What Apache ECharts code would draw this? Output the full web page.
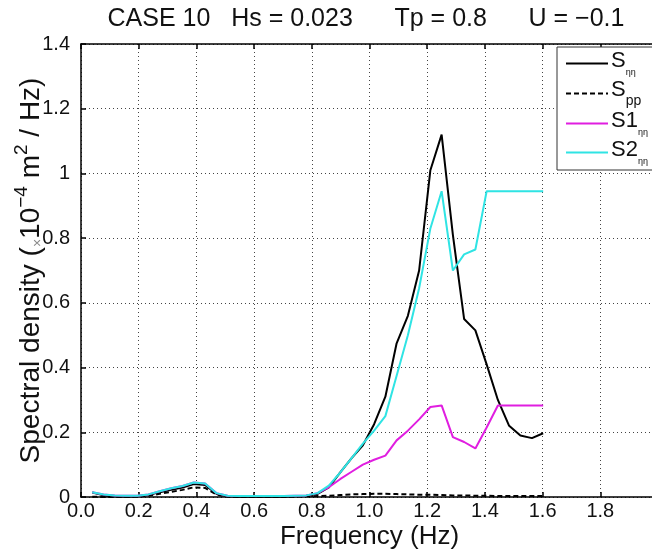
<!DOCTYPE html>
<html><head><meta charset="utf-8">
<script src="https://cdn.jsdelivr.net/npm/echarts@6/dist/echarts.min.js"></script>
<style>html,body{margin:0;padding:0;background:#fff}#c{width:652px;height:553px}</style>
</head><body><div id="c"></div>
<script>
var freq = [0.039,0.078,0.117,0.156,0.195,0.234,0.273,0.313,0.352,0.391,0.430,0.469,0.508,0.547,0.586,0.625,0.664,0.703,0.742,0.781,
0.820,0.859,0.898,0.938,0.977,1.016,1.055,1.094,1.133,1.172,1.211,1.250,1.289,1.328,1.367,1.406,1.445,1.484,1.523,1.563,1.602];
var sEta = [0.014,0.005,0.002,0.001,0.002,0.006,0.015,0.022,0.029,0.040,0.037,0.010,0.002,0.001,0.001,0.001,0.001,0.001,0.002,0.004,
0.010,0.030,0.075,0.120,0.160,0.225,0.310,0.475,0.560,0.700,1.010,1.120,0.810,0.550,0.515,0.410,0.300,0.220,0.190,0.182,0.197];
var sPp = [0.001,0.000,0.000,0.000,0.001,0.004,0.010,0.016,0.022,0.030,0.028,0.008,0.001,0.000,0.000,0.000,0.000,0.000,0.001,0.002,
0.003,0.004,0.006,0.008,0.009,0.010,0.010,0.009,0.008,0.007,0.007,0.006,0.005,0.005,0.004,0.004,0.003,0.003,0.003,0.003,0.003];
var s1Eta = [0.015,0.008,0.005,0.004,0.004,0.008,0.018,0.027,0.034,0.045,0.042,0.012,0.004,0.003,0.003,0.003,0.003,0.003,0.004,0.005,
0.012,0.030,0.055,0.078,0.100,0.115,0.128,0.175,0.205,0.240,0.278,0.283,0.185,0.170,0.150,0.215,0.283,0.283,0.283,0.283,0.283];
var s2Eta = [0.015,0.008,0.005,0.004,0.004,0.008,0.018,0.027,0.034,0.045,0.042,0.012,0.004,0.003,0.003,0.003,0.003,0.003,0.004,0.005,
0.012,0.035,0.075,0.120,0.165,0.205,0.250,0.375,0.500,0.645,0.830,0.945,0.700,0.750,0.765,0.945,0.945,0.945,0.945,0.945,0.945];
var seriesNames = ['Sηη','Spp','S1ηη','S2ηη'];

function pairs(ys){ return freq.map(function(f,i){ return [f, ys[i]]; }); }
var FONT = 'Liberation Sans';
var chart = echarts.init(document.getElementById('c'), null, {renderer:'canvas'});
var gridStyle = {show:true, lineStyle:{color:'#444', type:[1,3], width:1}};
chart.setOption({
  animation:false,
  backgroundColor:'#fff',
  textStyle:{fontFamily:FONT},
  title:{text:'CASE 10   Hs = 0.023      Tp = 0.8      U = \u22120.1', left:361, textAlign:'center', top:2,
    textStyle:{fontFamily:FONT, fontSize:25, fontWeight:'normal', color:'#111'}},
  grid:{left:81, top:44, bottom:56, width:577, containLabel:false, outerBoundsMode:'none'},
  legend:{orient:'vertical', left:557, top:47, padding:[3,40,4,8], itemWidth:42, itemHeight:14, itemGap:2,
    borderColor:'#333', borderWidth:1, backgroundColor:'#fff',
    itemStyle:{opacity:0, borderWidth:0},
    data:seriesNames,
    formatter:function(n){
      if(n==='Sηη') return '{m|S}{s|ηη}';
      if(n==='Spp') return '{m|S}{p|pp}';
      if(n==='S1ηη') return '{m|S1}{s|ηη}';
      return '{m|S2}{s|ηη}';
    },
    textStyle:{fontFamily:FONT, color:'#111', padding:[0,0,0,-2],
      rich:{
        m:{fontSize:22, fontFamily:FONT, color:'#111', lineHeight:22, verticalAlign:'top'},
        s:{fontSize:9, fontFamily:FONT, color:'#111', lineHeight:27, verticalAlign:'bottom'},
        p:{fontSize:14, fontFamily:FONT, color:'#111', lineHeight:29, verticalAlign:'bottom'}
      }}
  },
  xAxis:[{type:'value', min:0, max:2, interval:0.2, position:'bottom',
    name:'Frequency (Hz)', nameLocation:'middle', nameGap:27, nameMoveOverlap:false,
    nameTextStyle:{fontFamily:FONT, fontSize:26, color:'#111'},
    axisLine:{show:true, onZero:false, lineStyle:{color:'#000', width:1.5}},
    axisTick:{show:true, inside:true, length:5, lineStyle:{color:'#000', width:1.5}},
    axisLabel:{fontFamily:FONT, fontSize:20, color:'#111', margin:4, showMaxLabel:false, formatter:function(v){return v.toFixed(1);}},
    splitLine:gridStyle},
   {type:'value', min:0, max:2, interval:0.2, position:'top',
    axisLine:{show:true, onZero:false, lineStyle:{color:'#000', width:1.5}},
    axisTick:{show:true, inside:true, length:5, lineStyle:{color:'#000', width:1.5}},
    axisLabel:{show:false}, splitLine:{show:false}}],
  yAxis:{type:'value', min:0, max:1.4, interval:0.2,
    name:'{n|Spectral density (}{x|\u00d7}{n|10}{sup|\u22124}{n| m}{sup|2}{n| / Hz)}', nameLocation:'middle', nameGap:36, nameMoveOverlap:false,
    nameTextStyle:{fontFamily:FONT, fontSize:28, color:'#111',
      rich:{n:{fontFamily:FONT, fontSize:28, color:'#111', lineHeight:33, verticalAlign:'bottom'},
            x:{fontFamily:FONT, fontSize:14, color:'#888', lineHeight:33, verticalAlign:'bottom'},
            sup:{fontFamily:FONT, fontSize:19, color:'#111', lineHeight:33, verticalAlign:'top'}}},
    axisLine:{show:true, onZero:false, lineStyle:{color:'#000', width:1.5}},
    axisTick:{show:true, inside:true, length:5, lineStyle:{color:'#000', width:1.5}},
    axisLabel:{fontFamily:FONT, fontSize:20, color:'#111', margin:11,
      formatter:function(v){ return (v===0||v===1)? String(v) : v.toFixed(1); }},
    splitLine:gridStyle},
  series:[
    {name:'Sηη', type:'line', data:pairs(sEta), symbol:'none', lineStyle:{color:'#000', width:2}, itemStyle:{color:'#000'}},
    {name:'Spp', type:'line', data:pairs(sPp), symbol:'none', lineStyle:{color:'#000', width:2, type:[5,3]}, itemStyle:{color:'#000'}},
    {name:'S1ηη', type:'line', data:pairs(s1Eta), symbol:'none', lineStyle:{color:'#e01ee0', width:2}, itemStyle:{color:'#e01ee0'}},
    {name:'S2ηη', type:'line', data:pairs(s2Eta), symbol:'none', lineStyle:{color:'#2fe4e4', width:2}, itemStyle:{color:'#2fe4e4'}}
  ]
});
</script></body></html>
